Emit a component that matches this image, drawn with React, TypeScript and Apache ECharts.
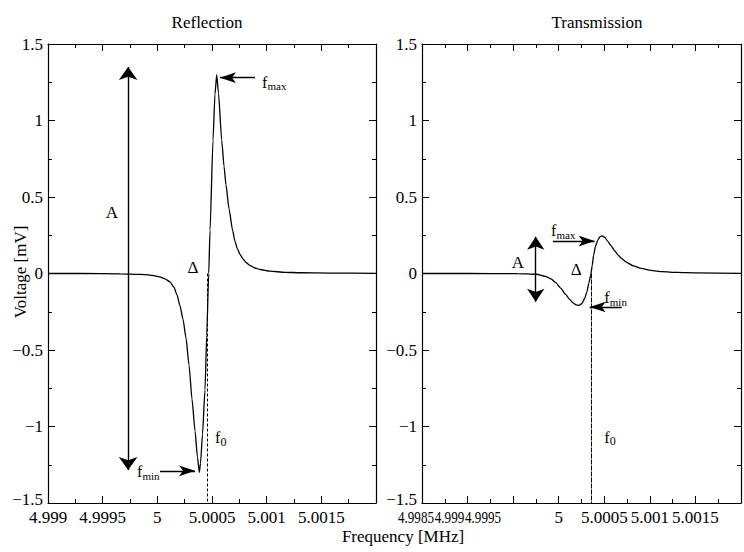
import React, { useEffect, useRef } from 'react';
import * as echarts from 'echarts';

// ---------- data ----------
const reflFreq = [
  4.999, 4.9993, 4.999659, 4.999841, 4.999933, 5.000024, 5.00007, 5.000116, 5.000152, 5.00018,
  5.000207, 5.000235, 5.000262, 5.00029, 5.000317, 5.000345, 5.000367, 5.000384, 5.000395, 5.000413,
  5.000436, 5.000452, 5.00047, 5.000482, 5.000509, 5.000527, 5.000543, 5.000559, 5.000589, 5.00061,
  5.000628, 5.000656, 5.000689, 5.00071, 5.000733, 5.000756, 5.000784, 5.000811, 5.000848, 5.000893,
  5.000939, 5.00103, 5.001168, 5.001305, 5.001579, 5.002,
];
const reflVolt = [
  0, 0, -0.002, -0.006, -0.01, -0.022, -0.035, -0.055, -0.09, -0.14,
  -0.21, -0.3, -0.42, -0.6, -0.82, -1.03, -1.2, -1.3, -1.24, -1.05,
  -0.76, -0.4, 0, 0.28, 0.87, 1.17, 1.3, 1.18, 0.87, 0.7,
  0.58, 0.42, 0.28, 0.21, 0.16, 0.125, 0.095, 0.072, 0.052, 0.036,
  0.026, 0.015, 0.008, 0.005, 0.003, 0.001,
];
const transFreq = [
  4.9985, 4.999011, 4.999543, 4.999755, 4.999862, 4.999915, 4.999968, 5.000021, 5.000074, 5.000117,
  5.00016, 5.000191, 5.000223, 5.000255, 5.000287, 5.000309, 5.00033, 5.000351, 5.000367, 5.000383,
  5.000404, 5.000431, 5.000457, 5.000479, 5.000505, 5.000537, 5.000574, 5.000612, 5.000649, 5.000691,
  5.000745, 5.000819, 5.000904, 5.001011, 5.001138, 5.001298, 5.001511, 5.002,
];
const transVolt = [
  0, 0, -0.001, -0.005, -0.02, -0.035, -0.06, -0.095, -0.135, -0.168,
  -0.193, -0.205, -0.208, -0.196, -0.16, -0.12, -0.065, -0.01, 0.05, 0.12,
  0.18, 0.222, 0.243, 0.246, 0.236, 0.212, 0.182, 0.15, 0.122, 0.097,
  0.073, 0.05, 0.033, 0.02, 0.012, 0.007, 0.004, 0.001,
];

const panelTitles = ['Reflection', 'Transmission'];
const yAxisName = 'Voltage [mV]';
const xAxisName = 'Frequency [MHz]';

// x ranges of the two panels
const reflRange = [4.999, 5.002];
const transRange = [4.9985, 5.002];
const yRange = [-1.5, 1.5];
// crowded tick labels at the left of the transmission axis
const crowdedLabels = ['4.9985', '4.999', '4.9995'];

// resonance frequencies (f0 markers)
const reflF0 = 5.000455;
const transF0 = 5.000358;

// annotation arrows: [x1, y1, x2, y2]
const reflAmpArrow = [4.999733, -1.285, 4.999733, 1.35];
const reflMaxArrow = [5.000893, 1.28, 5.000573, 1.28];
const reflMinArrow = [5.000024, -1.29, 5.000345, -1.29];
const transAmpArrow = [4.999748, -0.185, 4.999748, 0.24];
const transMaxArrow = [4.999936, 0.212, 5.000394, 0.212];
const transMinArrow = [5.000691, -0.219, 5.00034, -0.219];

const FONT = '"Liberation Serif", "Times New Roman", Times, serif';

const fmtX = (v: number) => String(parseFloat(v.toFixed(4)));
const fmtY = (v: number) => {
  const r = parseFloat(v.toFixed(2));
  return r < 0 ? '\u2212' + String(-r) : String(r);
};

function xAxis(gridIndex: number, range: number[], position: string, label: any) {
  return {
    type: 'value',
    gridIndex,
    position,
    min: range[0],
    max: range[1],
    interval: 0.0005,
    axisLine: { show: true, onZero: false, lineStyle: { color: '#000', width: 1.2 } },
    axisTick: { show: true, inside: true, length: 7, lineStyle: { color: '#000', width: 1 } },
    minorTick: { show: true, splitNumber: 2, length: 4, lineStyle: { color: '#000', width: 1 } },
    splitLine: { show: false },
    minorSplitLine: { show: false },
    axisLabel: label,
  };
}

function yAxis(gridIndex: number, position: string, showLabel: boolean) {
  return {
    type: 'value',
    gridIndex,
    position,
    min: yRange[0],
    max: yRange[1],
    interval: 0.5,
    axisLine: { show: true, onZero: false, lineStyle: { color: '#000', width: 1.2 } },
    axisTick: { show: true, inside: true, length: 7, lineStyle: { color: '#000', width: 1 } },
    minorTick: { show: true, splitNumber: 2, length: 4, lineStyle: { color: '#000', width: 1 } },
    splitLine: { show: false },
    minorSplitLine: { show: false },
    axisLabel: showLabel
      ? {
          show: true,
          margin: 5,
          color: '#000',
          fontFamily: FONT,
          fontSize: 17,
          showMinLabel: true,
          showMaxLabel: true,
          formatter: (v: number) => {
            const s = fmtY(v);
            return v <= yRange[0] + 1e-9 ? `{lo|${s}}` : s;
          },
          rich: { lo: { fontFamily: FONT, fontSize: 17, color: '#000', padding: [0, 0, 7, 0] } },
        }
      : { show: false },
  };
}

function arrow(a: number[], both: boolean, size: number[]) {
  return [
    { coord: [a[0], a[1]], symbol: both ? 'arrow' : 'none', symbolSize: size },
    { coord: [a[2], a[3]], symbol: 'arrow', symbolSize: size },
  ];
}

function f0Line(f0: number, dash: number[]) {
  return [
    { coord: [f0, 0], symbol: 'none', lineStyle: { type: dash, width: 1, color: '#000' } },
    { coord: [f0, yRange[0]], symbol: 'none' },
  ];
}

export default function App() {
  const ref = useRef<HTMLDivElement>(null);

  useEffect(() => {
    if (!ref.current) return;
    const chart = echarts.init(ref.current, undefined, { renderer: 'svg' });

    const labelBase = { show: true, margin: 6, color: '#000', fontFamily: FONT, fontSize: 17, showMinLabel: true, showMaxLabel: true };

    const markLineBase = {
      silent: true,
      animation: false,
      label: { show: false },
      emphasis: { disabled: true },
      lineStyle: { color: '#000', width: 1.4, type: 'solid' },
    };

    chart.setOption({
      animation: false,
      grid: [
        { left: 48, top: 44, width: 328, height: 459 },
        { left: 422, top: 44, width: 329, height: 459 },
      ],
      xAxis: [
        xAxis(0, reflRange, 'bottom', {
          ...labelBase,
          formatter: (v: number) => {
            const s = fmtX(v);
            return s === '5.002' ? '' : s;
          },
        }),
        xAxis(0, reflRange, 'top', { show: false }),
        xAxis(1, transRange, 'bottom', {
          ...labelBase,
          formatter: (v: number) => {
            const s = fmtX(v);
            if (s === '5.002' || crowdedLabels.indexOf(s) >= 0) return '';
            return s;
          },
        }),
        xAxis(1, transRange, 'top', { show: false }),
      ],
      yAxis: [
        yAxis(0, 'left', true),
        yAxis(0, 'right', false),
        yAxis(1, 'left', true),
        yAxis(1, 'right', false),
      ],
      series: [
        {
          type: 'line',
          name: panelTitles[0],
          xAxisIndex: 0,
          yAxisIndex: 0,
          data: reflFreq.map((f, i) => [f, reflVolt[i]]),
          showSymbol: false,
          symbol: 'none',
          smooth: 0.2,
          smoothMonotone: 'x',
          lineStyle: { color: '#000', width: 1.3 },
          markLine: {
            ...markLineBase,
            data: [
              arrow(reflAmpArrow, true, [14, 13]),
              arrow(reflMaxArrow, false, [8, 16]),
              arrow(reflMinArrow, false, [8, 16]),
              f0Line(reflF0, [3, 2]),
            ],
          },
        },
        {
          type: 'line',
          name: panelTitles[1],
          xAxisIndex: 2,
          yAxisIndex: 2,
          data: transFreq.map((f, i) => [f, transVolt[i]]),
          showSymbol: false,
          symbol: 'none',
          smooth: 0.2,
          smoothMonotone: 'x',
          lineStyle: { color: '#000', width: 1.3 },
          markLine: {
            ...markLineBase,
            data: [
              arrow(transAmpArrow, true, [13, 13]),
              arrow(transMaxArrow, false, [8, 16]),
              arrow(transMinArrow, false, [8, 16]),
              f0Line(transF0, [5, 1]),
            ],
          },
        },
      ],
    });

    const txt = (text: string, x: number, y: number, size: number, align: string, extra: any = {}) => ({
      type: 'text',
      x,
      y,
      silent: true,
      ...extra,
      style: {
        text,
        font: `${size}px ${FONT}`,
        fill: '#000',
        textAlign: align,
        textVerticalAlign: 'middle',
        align,
        verticalAlign: 'middle',
      },
    });

    // annotation texts positioned from data coordinates
    type Ann = { s: number; x: number; y: number; main: string; sub?: string };
    const anns: Ann[] = [
      { s: 0, x: 4.999585, y: 0.4, main: 'A' },
      { s: 0, x: 5.000326, y: 0.036, main: '\u0394' },
      { s: 0, x: 5.000957, y: 1.25, main: 'f', sub: 'max' },
      { s: 0, x: 4.999814, y: -1.297, main: 'f', sub: 'min' },
      { s: 0, x: 5.000527, y: -1.075, main: 'f', sub: '0' },
      { s: 1, x: 4.999553, y: 0.075, main: 'A' },
      { s: 1, x: 5.000191, y: 0.023, main: '\u0394' },
      { s: 1, x: 4.999915, y: 0.278, main: 'f', sub: 'max' },
      { s: 1, x: 5.0005, y: -0.16, main: 'f', sub: 'min' },
      { s: 1, x: 5.0005, y: -1.069, main: 'f', sub: '0' },
    ];
    const graphics: any[] = [];
    for (const a of anns) {
      const p = chart.convertToPixel({ seriesIndex: a.s }, [a.x, a.y]) as number[];
      if (!p) continue;
      if (a.sub) {
        graphics.push(txt(a.main, p[0], p[1], 16, 'left'));
        graphics.push(txt(a.sub, p[0] + 5.5, p[1] + 4, a.sub === '0' ? 12 : 11, 'left'));
      } else {
        graphics.push(txt(a.main, p[0], p[1], 17, 'center'));
      }
    }

    // crowded tick labels of the transmission axis, squeezed like the reference
    const lblY = 517;
    const pBase = chart.convertToPixel({ seriesIndex: 1 }, [transRange[0], 0]) as number[];
    let cx = (pBase ? pBase[0] : 422) - 24;
    const sx = 0.77;
    for (const s of crowdedLabels) {
      graphics.push(txt(s, cx, lblY, 17, 'left', { scaleX: sx }));
      const w = (s.replace('.', '').length * 0.5 + 0.25) * 17 * sx;
      cx += w + 0.8;
    }

    // titles and axis names
    graphics.push(txt(panelTitles[0], 207, 22, 17, 'center'));
    graphics.push(txt(panelTitles[1], 597, 22, 17, 'center'));
    graphics.push(txt(xAxisName, 403, 536, 17, 'center'));
    graphics.push(txt(yAxisName, 20, 272, 17, 'center', { rotation: Math.PI / 2 }));
    chart.setOption({ graphic: graphics });

    return () => chart.dispose();
  }, []);

  return (
    <div
      ref={ref}
      style={{ position: 'absolute', left: 0, top: 0, width: 744, height: 552, background: '#fff' }}
    />
  );
}
